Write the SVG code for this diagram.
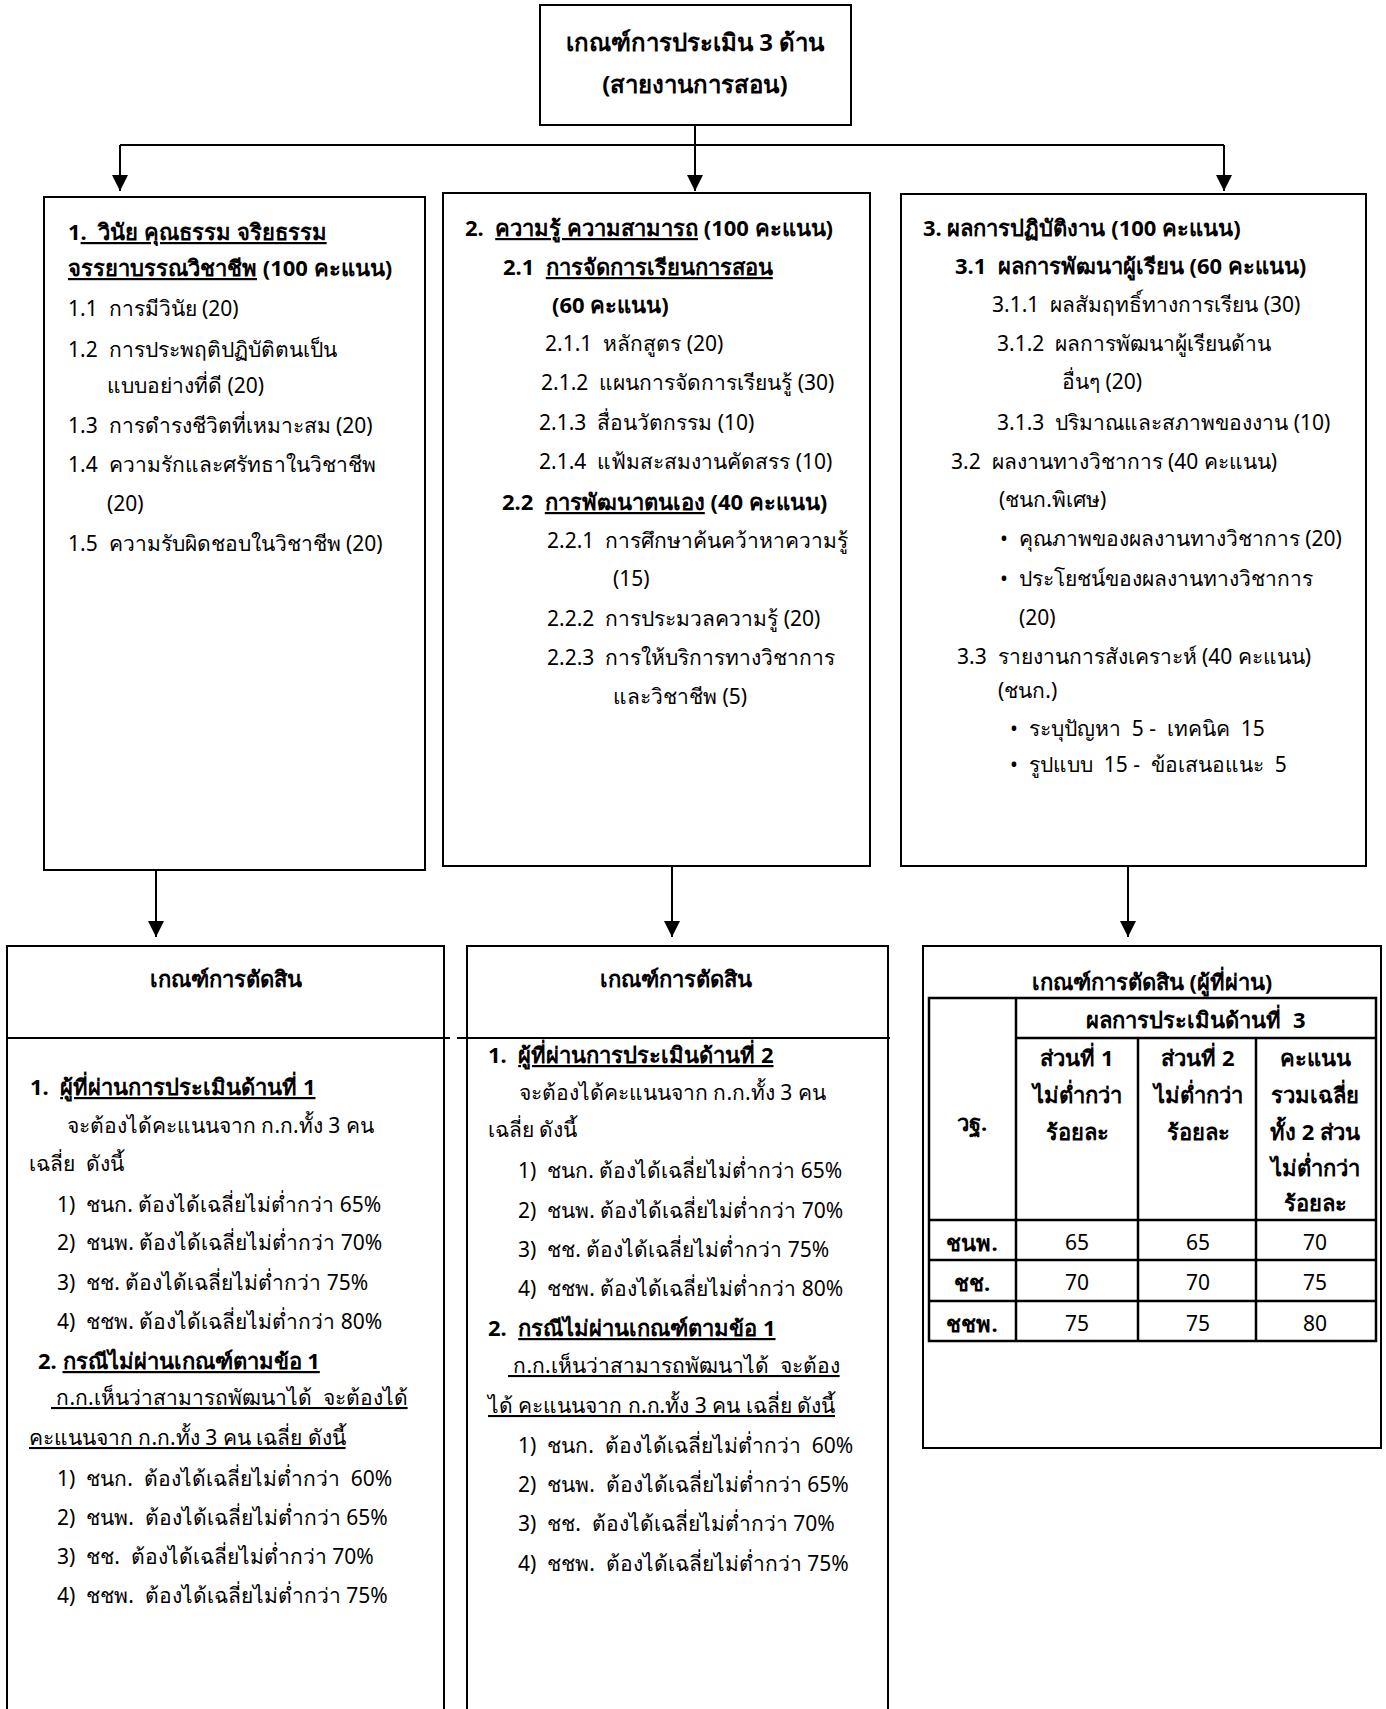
<svg xmlns="http://www.w3.org/2000/svg" width="1386" height="1709" viewBox="0 0 1386 1709" xml:space="preserve">
<style>
text{font-family:"Noto Sans","DejaVu Sans",sans-serif;font-size:21px;fill:#000;white-space:pre}
.b{font-weight:bold;font-size:22px}
.u{text-decoration:underline}
.c{text-anchor:middle}
.t{font-size:24px}
.box{fill:#fff;stroke:#000;stroke-width:2}
.ln{stroke:#000;stroke-width:2;fill:none}
</style>
<defs>
<marker id="ah" markerUnits="userSpaceOnUse" markerWidth="16" markerHeight="16" refX="16" refY="8" orient="auto">
<path d="M0,0 L16,8 L0,16 z" fill="#000"/>
</marker>
</defs>
<rect width="1386" height="1709" fill="#fff"/>

<g id="connectors">
<line class="ln" x1="695" y1="125" x2="695" y2="145"/>
<line class="ln" x1="120" y1="145" x2="1224" y2="145"/>
<line class="ln" x1="120" y1="145" x2="120" y2="191" marker-end="url(#ah)"/>
<line class="ln" x1="695" y1="145" x2="695" y2="191" marker-end="url(#ah)"/>
<line class="ln" x1="1224" y1="145" x2="1224" y2="191" marker-end="url(#ah)"/>
<line class="ln" x1="156" y1="870" x2="156" y2="937" marker-end="url(#ah)"/>
<line class="ln" x1="672" y1="866" x2="672" y2="937" marker-end="url(#ah)"/>
<line class="ln" x1="1128" y1="866" x2="1128" y2="937" marker-end="url(#ah)"/>
</g>

<g id="top">
<rect class="box" x="540" y="5" width="311" height="120"/>
<text class="b c t" x="695" y="51">เกณฑ์การประเมิน 3 ด้าน</text>
<text class="b c t" x="695" y="93">(สายงานการสอน)</text>
</g>

<g id="area1">
<rect class="box" x="44" y="197" width="381" height="673"/>
<text class="b" x="68" y="240">1<tspan class="u">.  วินัย คุณธรรม จริยธรรม</tspan></text>
<text class="b" x="68" y="276"><tspan class="u">จรรยาบรรณวิชาชีพ</tspan> (100 คะแนน)</text>
<text x="68" y="316">1.1  การมีวินัย (20)</text>
<text x="68" y="357">1.2  การประพฤติปฏิบัติตนเป็น</text>
<text x="107" y="393">แบบอย่างที่ดี (20)</text>
<text x="68" y="433">1.3  การดำรงชีวิตที่เหมาะสม (20)</text>
<text x="68" y="472">1.4  ความรักและศรัทธาในวิชาชีพ</text>
<text x="107" y="511">(20)</text>
<text x="68" y="551">1.5  ความรับผิดชอบในวิชาชีพ (20)</text>
</g>

<g id="area2">
<rect class="box" x="443" y="193" width="427" height="673"/>
<text class="b" x="465" y="236">2.  <tspan class="u">ความรู้ ความสามารถ</tspan> (100 คะแนน)</text>
<text class="b" x="503" y="275">2.1  <tspan class="u">การจัดการเรียนการสอน</tspan></text>
<text class="b" x="552" y="313">(60 คะแนน)</text>
<text x="545" y="351">2.1.1  หลักสูตร (20)</text>
<text x="541" y="390">2.1.2  แผนการจัดการเรียนรู้ (30)</text>
<text x="539" y="430">2.1.3  สื่อนวัตกรรม (10)</text>
<text x="539" y="469">2.1.4  แฟ้มสะสมงานคัดสรร (10)</text>
<text class="b" x="502" y="510">2.2  <tspan class="u">การพัฒนาตนเอง</tspan> (40 คะแนน)</text>
<text x="547" y="548">2.2.1  การศึกษาค้นคว้าหาความรู้</text>
<text x="613" y="586">(15)</text>
<text x="547" y="626">2.2.2  การประมวลความรู้ (20)</text>
<text x="547" y="665">2.2.3  การให้บริการทางวิชาการ</text>
<text x="613" y="704">และวิชาชีพ (5)</text>
</g>

<g id="area3">
<rect class="box" x="901" y="194" width="465" height="672"/>
<text class="b" x="923" y="236">3. ผลการปฏิบัติงาน (100 คะแนน)</text>
<text class="b" x="955" y="274">3.1  ผลการพัฒนาผู้เรียน (60 คะแนน)</text>
<text x="992" y="312">3.1.1  ผลสัมฤทธิ์ทางการเรียน (30)</text>
<text x="997" y="351">3.1.2  ผลการพัฒนาผู้เรียนด้าน</text>
<text x="1062" y="389">อื่นๆ (20)</text>
<text x="997" y="430">3.1.3  ปริมาณและสภาพของงาน (10)</text>
<text x="951" y="469">3.2  ผลงานทางวิชาการ (40 คะแนน)</text>
<text x="999" y="507">(ชนก.พิเศษ)</text>
<text x="1000" y="546">•  คุณภาพของผลงานทางวิชาการ (20)</text>
<text x="1000" y="586">•  ประโยชน์ของผลงานทางวิชาการ</text>
<text x="1019" y="625">(20)</text>
<text x="957" y="664">3.3  รายงานการสังเคราะห์ (40 คะแนน)</text>
<text x="998" y="698">(ชนก.)</text>
<text x="1010" y="736">•  ระบุปัญหา  5 -  เทคนิค  15</text>
<text x="1010" y="772">•  รูปแบบ  15 -  ข้อเสนอแนะ  5</text>
</g>

<g id="decision1">
<path class="ln" d="M7,1709 V946 H444 V1709"/>
<line class="ln" x1="7" y1="1038" x2="450" y2="1038"/>
<text class="b c" x="226" y="987">เกณฑ์การตัดสิน</text>
<text class="b" x="30" y="1095">1.  <tspan class="u">ผู้ที่ผ่านการประเมินด้านที่ 1</tspan></text>
<text x="67" y="1133">จะต้องได้คะแนนจาก ก.ก.ทั้ง 3 คน</text>
<text x="29" y="1171">เฉลี่ย  ดังนี้</text>
<text x="57" y="1212">1)  ชนก. ต้องได้เฉลี่ยไม่ต่ำกว่า 65%</text>
<text x="57" y="1250">2)  ชนพ. ต้องได้เฉลี่ยไม่ต่ำกว่า 70%</text>
<text x="57" y="1290">3)  ชช. ต้องได้เฉลี่ยไม่ต่ำกว่า 75%</text>
<text x="57" y="1329">4)  ชชพ. ต้องได้เฉลี่ยไม่ต่ำกว่า 80%</text>
<text class="b" x="38" y="1369">2. <tspan class="u">กรณีไม่ผ่านเกณฑ์ตามข้อ 1</tspan></text>
<text class="u" x="51" y="1405"> ก.ก.เห็นว่าสามารถพัฒนาได้  จะต้องได้</text>
<text class="u" x="29" y="1445">คะแนนจาก ก.ก.ทั้ง 3 คน เฉลี่ย ดังนี้</text>
<text x="57" y="1486">1)  ชนก.  ต้องได้เฉลี่ยไม่ต่ำกว่า  60%</text>
<text x="57" y="1525">2)  ชนพ.  ต้องได้เฉลี่ยไม่ต่ำกว่า 65%</text>
<text x="57" y="1564">3)  ชช.  ต้องได้เฉลี่ยไม่ต่ำกว่า 70%</text>
<text x="57" y="1603">4)  ชชพ.  ต้องได้เฉลี่ยไม่ต่ำกว่า 75%</text>
</g>

<g id="decision2">
<path class="ln" d="M467,1709 V946 H888 V1709"/>
<line class="ln" x1="457" y1="1038" x2="890" y2="1038"/>
<text class="b c" x="676" y="987">เกณฑ์การตัดสิน</text>
<text class="b" x="488" y="1063">1.  <tspan class="u">ผู้ที่ผ่านการประเมินด้านที่ 2</tspan></text>
<text x="519" y="1100">จะต้องได้คะแนนจาก ก.ก.ทั้ง 3 คน</text>
<text x="488" y="1137">เฉลี่ย ดังนี้</text>
<text x="518" y="1178">1)  ชนก. ต้องได้เฉลี่ยไม่ต่ำกว่า 65%</text>
<text x="518" y="1218">2)  ชนพ. ต้องได้เฉลี่ยไม่ต่ำกว่า 70%</text>
<text x="518" y="1257">3)  ชช. ต้องได้เฉลี่ยไม่ต่ำกว่า 75%</text>
<text x="518" y="1296">4)  ชชพ. ต้องได้เฉลี่ยไม่ต่ำกว่า 80%</text>
<text class="b" x="488" y="1336">2.  <tspan class="u">กรณีไม่ผ่านเกณฑ์ตามข้อ 1</tspan></text>
<text class="u" x="508" y="1373"> ก.ก.เห็นว่าสามารถพัฒนาได้  จะต้อง</text>
<text class="u" x="488" y="1413">ได้ คะแนนจาก ก.ก.ทั้ง 3 คน เฉลี่ย ดังนี้</text>
<text x="518" y="1453">1)  ชนก.  ต้องได้เฉลี่ยไม่ต่ำกว่า  60%</text>
<text x="518" y="1492">2)  ชนพ.  ต้องได้เฉลี่ยไม่ต่ำกว่า 65%</text>
<text x="518" y="1531">3)  ชช.  ต้องได้เฉลี่ยไม่ต่ำกว่า 70%</text>
<text x="518" y="1571">4)  ชชพ.  ต้องได้เฉลี่ยไม่ต่ำกว่า 75%</text>
</g>

<g id="decision3">
<rect class="box" x="923" y="946" width="458" height="502"/>
<text class="b c" x="1152" y="990">เกณฑ์การตัดสิน (ผู้ที่ผ่าน)</text>
<g stroke="#000" stroke-width="2.5" fill="none">
<rect x="929" y="998" width="447" height="343"/>
<line x1="1016" y1="998" x2="1016" y2="1341"/>
<line x1="1016" y1="1038" x2="1376" y2="1038"/>
<line x1="1138" y1="1038" x2="1138" y2="1341"/>
<line x1="1256" y1="1038" x2="1256" y2="1341"/>
<line x1="929" y1="1220" x2="1376" y2="1220"/>
<line x1="929" y1="1260" x2="1376" y2="1260"/>
<line x1="929" y1="1301" x2="1376" y2="1301"/>
</g>
<text class="b c" x="1196" y="1028">ผลการประเมินด้านที่  3</text>
<text class="b c" x="1077" y="1066">ส่วนที่ 1</text>
<text class="b c" x="1077" y="1103">ไม่ต่ำกว่า</text>
<text class="b c" x="1077" y="1140">ร้อยละ</text>
<text class="b c" x="1198" y="1066">ส่วนที่ 2</text>
<text class="b c" x="1198" y="1103">ไม่ต่ำกว่า</text>
<text class="b c" x="1198" y="1140">ร้อยละ</text>
<text class="b c" x="1315" y="1066">คะแนน</text>
<text class="b c" x="1315" y="1103">รวมเฉลี่ย</text>
<text class="b c" x="1315" y="1140">ทั้ง 2 ส่วน</text>
<text class="b c" x="1315" y="1176">ไม่ต่ำกว่า</text>
<text class="b c" x="1315" y="1211">ร้อยละ</text>
<text class="b c" x="972" y="1131">วฐ.</text>
<text class="b c" x="972" y="1251">ชนพ.</text>
<text class="c" x="1077" y="1250">65</text>
<text class="c" x="1198" y="1250">65</text>
<text class="c" x="1315" y="1250">70</text>
<text class="b c" x="972" y="1291">ชช.</text>
<text class="c" x="1077" y="1290">70</text>
<text class="c" x="1198" y="1290">70</text>
<text class="c" x="1315" y="1290">75</text>
<text class="b c" x="972" y="1332">ชชพ.</text>
<text class="c" x="1077" y="1331">75</text>
<text class="c" x="1198" y="1331">75</text>
<text class="c" x="1315" y="1331">80</text>
</g>
</svg>
